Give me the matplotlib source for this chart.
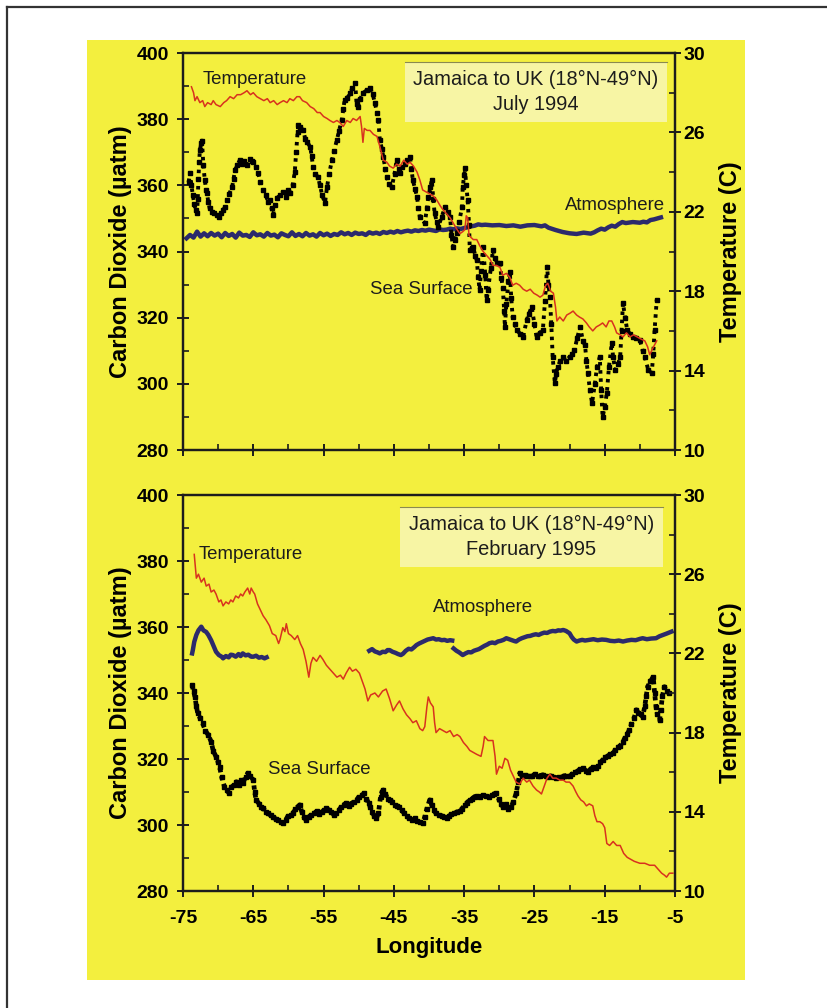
import matplotlib
matplotlib.use("Agg")
import matplotlib.pyplot as plt
import numpy as np
from matplotlib.patches import Rectangle
from matplotlib.lines import Line2D

plt.rcParams["font.family"] = ["Liberation Sans", "DejaVu Sans"]
plt.rcParams["axes.unicode_minus"] = False

# ---- July 1994 (top panel) ----
jul_temp_lon = [-73.8, -73.5, -73.3, -73.0, -72.6, -72.2, -71.9, -71.5, -71.0, -70.7, -70.3, -69.7, -69.2,
                -68.8, -68.3, -67.8, -67.3, -66.8, -66.3, -65.9, -65.4, -65.0, -64.5, -64.0, -63.5, -63.0,
                -62.6, -62.1, -61.6, -61.2, -60.7, -60.2, -59.8, -59.3, -58.8, -58.4, -58.0, -57.4, -56.9,
                -56.4, -55.9, -55.5, -55.0, -54.5, -54.1, -53.6, -53.1, -52.7, -52.2, -51.7, -51.2, -50.8,
                -50.3, -49.8, -49.6, -49.4, -49.2, -48.8, -48.4, -47.9, -47.4, -47.0, -46.5, -46.0, -45.6,
                -45.1, -44.6, -44.1, -43.6, -43.1, -42.7, -42.2, -41.7, -41.3, -40.9, -40.4, -39.9, -39.4,
                -38.9, -38.4, -38.0, -37.5, -37.0, -36.5, -36.0, -35.6, -35.2, -34.9, -34.7, -34.5, -34.3,
                -33.7, -33.2, -32.8, -32.3, -31.8, -31.3, -30.9, -30.4, -29.9, -29.5, -29.0, -28.5, -28.1,
                -27.6, -27.1, -26.6, -26.1, -25.6, -25.1, -24.6, -24.2, -23.8, -23.4, -23.1, -22.7, -22.3,
                -22.0, -21.8, -21.4, -20.9, -20.4, -19.9, -19.5, -19.0, -18.6, -18.1, -17.6, -17.2, -16.7,
                -16.2, -15.7, -15.3, -14.8, -14.4, -14.0, -13.6, -13.3, -12.8, -12.4, -11.9, -11.4, -10.9,
                -10.4, -9.9, -9.3, -8.9, -8.6, -8.2, -7.6]
jul_temp = [28.3, 28.0, 27.6, 27.8, 27.5, 27.6, 27.3, 27.5, 27.4, 27.6, 27.4, 27.3, 27.5,
            27.6, 27.8, 27.7, 27.9, 27.9, 28.0, 28.1, 27.9, 28.0, 27.8, 27.7, 27.6, 27.7,
            27.5, 27.6, 27.4, 27.5, 27.6, 27.5, 27.7, 27.6, 27.8, 27.8, 27.6, 27.5, 27.3,
            27.2, 27.0, 27.0, 26.8, 26.7, 26.6, 26.5, 26.6, 26.5, 26.3, 26.6, 26.5, 26.7,
            26.6, 26.8, 26.3, 25.5, 26.2, 26.1, 26.1, 25.9, 25.8, 25.3, 24.6, 24.5, 24.3,
            24.2, 24.4, 24.3, 24.6, 24.4, 24.5, 24.3, 24.0, 23.6, 23.1, 23.0, 22.9, 22.8,
            22.6, 22.3, 22.1, 21.9, 21.7, 21.4, 21.1, 20.9, 21.0, 21.1, 21.8, 21.7, 20.8,
            20.6, 20.6, 20.3, 20.0, 19.8, 19.6, 19.3, 19.3, 19.2, 18.8, 18.9, 18.7, 18.3,
            18.4, 18.3, 18.1, 18.0, 18.1, 17.9, 17.8, 17.7, 17.8, 18.3, 18.4, 18.0, 17.9,
            17.2, 16.5, 16.7, 16.5, 16.8, 16.9, 17.0, 16.8, 16.7, 16.6, 16.4, 16.2, 16.0,
            16.2, 16.3, 16.4, 16.2, 16.5, 16.5, 16.2, 15.9, 15.8, 15.7, 15.9, 15.7, 15.8,
            15.7, 15.6, 15.5, 15.2, 14.8, 15.1, 15.5]

jul_atm_lon = [-74.5, -74.0, -73.5, -73.0, -72.5, -72.0, -71.5, -71.0, -70.5, -70.0, -69.5, -69.0, -68.5,
               -68.0, -67.5, -67.0, -66.5, -66.0, -65.5, -65.0, -64.5, -64.0, -63.5, -63.0, -62.5, -62.0,
               -61.5, -61.0, -60.5, -60.0, -59.5, -59.0, -58.5, -58.0, -57.5, -57.0, -56.5, -56.0, -55.5,
               -55.0, -54.5, -54.0, -53.5, -53.0, -52.5, -52.0, -51.5, -51.0, -50.5, -50.0, -49.5, -49.0,
               -48.5, -48.0, -47.5, -47.0, -46.5, -46.0, -45.5, -45.0, -44.5, -44.0, -43.5, -43.0, -42.5,
               -42.0, -41.5, -41.0, -40.5, -40.0, -39.5, -39.0, -38.5, -38.0, -37.5, -37.0, -36.5, -36.0,
               -35.5, -35.0, -34.5, -34.0, -33.5, -33.0, -32.5, -32.0, -31.0, -30.0, -29.0, -28.0, -27.0,
               -26.0, -25.0, -24.0, -23.5, -23.0, -22.0, -21.0, -20.0, -19.0, -18.0, -17.0, -16.5, -16.0,
               -15.5, -15.0, -14.5, -14.0, -13.5, -13.0, -12.5, -12.0, -11.0, -10.0, -9.5, -9.0, -8.5,
               -8.0, -7.5, -7.0]
jul_atm = [344.0, 345.0, 344.2, 346.0, 344.5, 345.5, 344.6, 345.6, 344.8, 345.4, 344.3, 345.6, 344.7,
           345.3, 344.2, 345.7, 344.8, 345.0, 344.4, 345.8, 344.9, 345.2, 344.5, 345.6, 344.8, 345.1,
           344.3, 345.5, 345.0, 344.6, 345.8, 344.7, 345.3, 344.6, 345.6, 344.8, 345.2, 344.5, 345.6,
           344.9, 345.4, 344.7, 345.3, 345.0, 345.8, 345.2, 345.6, 345.0, 345.7, 345.3, 345.5, 345.0,
           345.8, 345.4, 345.7, 345.3, 345.9, 345.6, 346.0, 345.7, 346.2, 345.8, 346.1, 346.3, 346.0,
           346.4, 346.2, 346.5, 346.3, 346.6, 346.4, 346.2, 346.7, 346.5, 346.6, 346.9, 346.7, 347.0,
           346.8, 347.1, 347.3, 347.6, 347.8, 348.2, 348.0, 348.1, 347.9, 348.0, 347.7, 347.9, 347.5,
           347.9, 348.0, 347.6, 347.9, 347.2, 346.5, 345.9, 345.5, 345.3, 345.7, 345.4, 345.8, 346.4,
           346.9, 346.6, 347.3, 347.8, 347.5, 348.3, 348.9, 348.6, 348.9, 348.7, 349.0, 348.8, 349.5,
           349.7, 350.0, 350.3]

jul_sea_lon = [-74.2, -74.0, -73.8, -73.6, -73.4, -73.2, -73.0, -72.9, -72.8, -72.7, -72.6, -72.4, -72.3,
               -72.1, -71.9, -71.7, -71.6, -71.4, -71.2, -70.9, -70.6, -70.2, -69.9, -69.6, -69.3, -69.0,
               -68.7, -68.4, -68.0, -67.8, -67.6, -67.3, -66.9, -66.6, -66.3, -65.9, -65.5, -65.2, -65.0,
               -64.6, -64.3, -64.0, -63.6, -63.2, -62.9, -62.6, -62.4, -62.2, -61.9, -61.6, -61.2, -60.8,
               -60.4, -60.1, -59.8, -59.4, -59.1, -58.9, -58.7, -58.6, -58.3, -57.9, -57.6, -57.3, -56.9,
               -56.7, -56.5, -56.2, -55.8, -55.5, -55.2, -54.8, -54.5, -54.2, -53.8, -53.5, -53.1, -52.8,
               -52.4, -52.2, -52.0, -51.6, -51.2, -50.9, -50.5, -50.3, -50.1, -49.8, -49.4, -48.8, -48.4,
               -48.0, -47.7, -47.4, -47.2, -47.0, -46.7, -46.5, -46.2, -46.0, -45.7, -45.3, -44.9, -44.6,
               -44.3, -44.1, -43.8, -43.4, -43.1, -42.7, -42.5, -42.3, -42.0, -41.7, -41.5, -41.3, -40.6,
               -40.3, -40.1, -39.8, -39.6, -39.4, -39.2, -38.9, -38.7, -38.2, -37.7, -37.3, -37.0, -36.8,
               -36.6, -36.3, -36.0, -35.7, -35.3, -35.2, -35.0, -34.9, -34.7, -34.5, -34.3, -34.2, -33.9,
               -33.7, -33.4, -33.2, -33.0, -32.8, -32.6, -32.3, -32.0, -31.8, -31.6, -31.2, -30.9, -30.6,
               -30.3, -29.9, -29.7, -29.5, -29.3, -29.2, -29.0, -28.7, -28.5, -28.3, -28.1, -27.8, -27.5,
               -27.0, -26.6, -26.1, -25.8, -25.4, -25.0, -24.7, -24.2, -23.8, -23.5, -23.2, -23.0, -22.8,
               -22.6, -22.4, -22.1, -21.9, -21.7, -21.3, -20.9, -20.5, -20.0, -19.6, -19.3, -18.9, -18.5,
               -18.1, -17.8, -17.6, -17.4, -17.1, -16.8, -16.4, -16.1, -15.7, -15.5, -15.3, -15.0, -14.7,
               -14.4, -14.0, -13.8, -13.5, -13.1, -12.8, -12.6, -12.4, -12.1, -11.8, -11.4, -11.0, -10.5,
               -10.0, -9.6, -9.3, -8.8, -8.3, -8.1, -7.9, -7.6]
jul_sea = [361.0, 363.7, 360.0, 357.0, 354.5, 352.5, 351.6, 356.0, 362.0, 367.0, 370.7, 372.7, 373.5,
           366.0, 361.6, 358.5, 357.7, 355.0, 353.0, 352.0, 351.5, 351.0, 350.5, 351.5, 352.5, 353.5,
           355.6, 357.5, 359.6, 362.0, 364.6, 366.0, 367.7, 366.5, 367.5, 366.2, 368.0, 367.5, 367.1,
           365.5, 363.7, 361.0, 358.6, 357.0, 355.0, 355.6, 353.0, 351.0, 354.0, 356.2, 357.0, 358.0,
           356.5, 358.5, 357.7, 360.0, 364.0, 370.0, 376.0, 378.2, 377.5, 376.7, 374.0, 373.0, 371.6,
           369.0, 365.6, 363.5, 362.5, 360.0, 357.0, 354.7, 359.6, 363.5, 367.7, 370.5, 373.7, 376.5,
           379.8, 383.0, 385.8, 386.5, 387.9, 389.5, 390.9, 384.5, 383.7, 386.0, 387.9, 388.8, 389.4,
           387.5, 384.9, 382.0, 379.8, 373.7, 371.0, 368.6, 365.0, 362.5, 360.5, 359.5, 363.5, 367.7,
           365.0, 363.7, 365.5, 366.5, 367.7, 368.6, 365.0, 361.6, 359.0, 356.5, 353.0, 350.4, 348.6,
           353.0, 356.5, 359.5, 361.6, 356.0, 351.6, 349.0, 347.4, 350.5, 353.5, 352.0, 350.4, 345.0,
           341.4, 343.5, 345.6, 349.0, 353.5, 359.5, 363.0, 365.3, 360.0, 355.6, 348.0, 340.5, 341.0,
           341.4, 338.5, 337.4, 332.3, 328.4, 334.0, 341.4, 333.0, 325.3, 328.4, 335.0, 340.5, 338.0,
           336.5, 336.5, 332.0, 329.0, 322.0, 317.2, 324.0, 331.0, 333.8, 326.0, 320.2, 318.0, 316.3,
           315.0, 314.2, 319.3, 321.0, 323.3, 318.0, 314.2, 315.5, 316.3, 325.0, 335.4, 330.0, 326.3,
           318.0, 308.0, 300.3, 303.0, 305.1, 307.0, 308.1, 307.0, 308.1, 309.0, 310.2, 314.0, 317.2,
           313.0, 311.7, 307.0, 303.3, 298.0, 294.2, 300.0, 305.1, 308.1, 298.0, 290.0, 293.0, 297.2,
           305.0, 312.3, 308.0, 304.2, 306.0, 308.1, 316.0, 324.4, 320.0, 316.3, 315.0, 314.2, 314.0,
           313.3, 310.0, 308.1, 304.2, 303.3, 309.0, 316.3, 325.4]

# ---- February 1995 (bottom panel) ----
feb_temp_lon = [-73.4, -73.3, -73.1, -72.8, -72.4, -72.0, -71.7, -71.3, -71.0, -70.6, -70.3, -69.9, -69.6,
                -69.3, -68.9, -68.5, -68.2, -67.9, -67.5, -67.1, -66.8, -66.5, -66.2, -65.8, -65.5, -65.3,
                -65.0, -64.8, -64.4, -64.0, -63.6, -63.2, -62.7, -62.3, -61.8, -61.4, -61.2, -60.8, -60.5,
                -60.3, -60.0, -59.6, -59.1, -58.7, -58.3, -57.9, -57.5, -57.2, -57.1, -56.8, -56.5, -56.0,
                -55.5, -55.1, -54.6, -54.1, -53.6, -53.1, -52.6, -52.2, -51.8, -51.3, -50.9, -50.4, -49.9,
                -49.5, -49.1, -48.7, -48.3, -47.7, -47.2, -46.6, -46.1, -45.6, -45.1, -44.6, -44.2, -43.7,
                -43.2, -42.7, -42.3, -41.8, -41.3, -40.9, -40.6, -40.3, -40.1, -39.8, -39.4, -39.2, -39.0,
                -38.5, -38.0, -37.5, -37.0, -36.5, -36.0, -35.6, -35.1, -34.6, -34.2, -33.7, -33.2, -32.6,
                -32.3, -32.1, -31.6, -30.9, -30.6, -30.4, -30.0, -29.6, -29.2, -28.8, -28.4, -28.0, -27.6,
                -27.1, -26.6, -26.1, -25.7, -25.2, -24.7, -24.3, -24.0, -23.6, -23.2, -22.8, -22.4, -21.9,
                -21.4, -20.9, -20.5, -20.0, -19.5, -19.1, -18.8, -18.4, -18.0, -17.6, -17.2, -16.7, -16.4,
                -16.1, -15.7, -15.3, -15.0, -14.7, -14.3, -13.8, -13.3, -12.8, -12.3, -11.8, -11.3, -10.8,
                -10.0, -9.3, -8.6, -7.9, -7.4, -6.9, -6.5, -6.2, -5.8, -5.3]
feb_temp = [27.0, 26.6, 25.8, 26.0, 25.6, 25.8, 25.4, 25.5, 25.1, 25.2, 25.0, 24.6, 24.7,
            24.4, 24.6, 24.5, 24.7, 24.6, 24.9, 24.8, 25.0, 24.9, 25.1, 25.3, 25.0, 25.3,
            25.1, 25.0, 24.5, 24.2, 23.9, 23.7, 23.4, 23.0, 22.9, 22.5, 22.7, 23.3, 23.1,
            23.5, 23.0, 22.9, 22.7, 22.9, 22.5, 22.2, 21.6, 21.0, 20.8, 21.5, 21.8, 21.6,
            21.9, 21.7, 21.4, 21.2, 21.0, 20.8, 20.9, 20.7, 21.0, 21.3, 21.1, 21.2, 21.0,
            20.6, 20.2, 19.6, 19.9, 20.0, 19.8, 20.1, 20.2, 19.7, 19.1, 19.4, 19.6, 19.2,
            18.9, 18.7, 18.5, 18.6, 18.2, 18.1, 18.3, 19.3, 19.8, 19.5, 19.3, 18.5, 18.0,
            18.2, 18.1, 18.0, 18.1, 17.8, 17.9, 17.8, 17.5, 17.3, 17.1, 17.0, 16.9, 16.8,
            17.3, 17.8, 17.6, 17.6, 16.8, 15.9, 16.3, 16.2, 16.7, 16.6, 16.1, 15.8, 15.5,
            15.4, 15.7, 15.5, 15.6, 15.3, 15.1, 15.0, 14.9, 15.3, 15.7, 15.9, 15.7, 15.7,
            15.6, 15.6, 15.5, 15.5, 15.3, 15.0, 14.8, 14.6, 14.5, 14.3, 14.4, 14.3, 13.8,
            13.5, 13.5, 13.4, 13.2, 12.4, 12.3, 12.5, 12.3, 12.3, 11.9, 11.7, 11.6, 11.5,
            11.4, 11.4, 11.3, 11.3, 11.1, 10.9, 10.8, 10.7, 10.9, 10.9]

# atmosphere record has two gaps (nan)
feb_atm_lon = [-73.7, -73.6, -73.4, -73.1, -72.8, -72.4, -72.1, -71.7, -71.4, -71.0, -70.6, -70.3, -69.9,
               -69.5, -69.3, -68.9, -68.5, -68.2, -67.9, -67.5, -67.1, -66.8, -66.5, -66.1, -65.7, -65.3,
               -65.0, -64.6, -64.2, -63.8, -63.4, -63.1, -55.0,
               -48.5, -48.1, -47.7, -47.3, -47.0, -46.6, -46.2, -45.9, -45.6, -45.2, -44.8, -44.4, -44.0,
               -43.7, -43.3, -42.9, -42.5, -42.1, -41.8, -41.4, -41.0, -40.6, -40.2, -39.8, -39.4, -39.0,
               -38.6, -38.2, -37.8, -37.4, -37.0, -36.7, -36.6,
               -36.5, -36.1, -35.7, -35.4, -35.2, -34.8, -34.4, -34.0, -33.6, -33.3, -32.9, -32.5, -32.1,
               -31.7, -31.4, -31.0, -30.6, -30.2, -29.8, -29.4, -29.0, -28.6, -28.2, -27.8, -27.6, -27.2,
               -26.8, -26.4, -26.0, -25.6, -25.2, -24.8, -24.4, -24.0, -23.6, -23.2, -22.8, -22.4, -22.0,
               -21.6, -21.3, -20.9, -20.5, -20.0, -19.7, -19.4, -19.0, -18.6, -18.2, -17.8, -17.2, -16.6,
               -16.0, -15.4, -14.8, -14.2, -13.6, -13.0, -12.4, -11.8, -11.2, -10.6, -10.0, -9.6, -9.0,
               -8.4, -7.7, -7.2, -6.7, -6.2, -5.5]
feb_atm = [352.0, 353.0, 355.5, 357.6, 359.0, 360.1, 359.0, 358.5, 357.6, 356.0, 354.0, 352.5, 351.5,
           351.0, 350.5, 351.2, 350.8, 351.6, 351.5, 351.0, 351.8, 351.2, 352.0, 351.4, 351.6, 351.0,
           351.0, 351.3, 350.7, 350.9, 350.5, 350.8, np.nan,
           352.8, 353.3, 352.6, 352.3, 352.0, 352.5, 352.4, 353.0, 353.0, 352.5, 352.2, 351.8, 351.5,
           351.9, 352.8, 353.4, 353.2, 353.9, 354.5, 355.0, 355.4, 355.8, 356.2, 356.4, 356.6, 356.2,
           356.3, 356.0, 356.1, 355.8, 356.0, 355.9, np.nan,
           353.5, 352.8, 352.3, 351.8, 351.5, 352.0, 352.4, 352.3, 352.8, 353.0, 353.3, 353.8, 354.3,
           354.7, 355.1, 355.3, 355.1, 355.6, 355.8, 356.1, 356.6, 356.3, 356.0, 355.7, 355.6, 356.2,
           356.6, 356.9, 357.2, 357.3, 357.6, 357.8, 357.6, 358.0, 358.3, 358.2, 358.6, 358.8, 358.7,
           359.0, 358.9, 359.1, 358.8, 358.1, 357.0, 356.2, 355.6, 355.9, 356.1, 355.9, 356.1, 356.3,
           356.0, 356.2, 356.1, 355.8, 355.7, 355.9, 355.6, 355.9, 356.1, 356.0, 356.4, 356.6, 356.3,
           356.5, 356.6, 357.2, 357.6, 358.0, 358.6]

feb_sea_lon = [-73.7, -73.5, -73.3, -73.1, -72.9, -72.6, -72.2, -71.8, -71.4, -71.0, -70.7, -70.3, -70.0,
               -69.8, -69.5, -69.1, -68.8, -68.4, -68.1, -67.8, -67.4, -67.0, -66.7, -66.5, -66.1, -65.8,
               -65.4, -65.0, -64.8, -64.6, -64.2, -63.9, -63.6, -63.2, -62.9, -62.5, -62.2, -61.8, -61.5,
               -61.1, -60.8, -60.4, -60.1, -59.7, -59.4, -59.0, -58.7, -58.4, -58.1, -57.8, -57.5, -57.1,
               -56.8, -56.4, -56.0, -55.6, -55.2, -54.9, -54.6, -54.2, -53.9, -53.5, -53.2, -52.8, -52.5,
               -52.1, -51.8, -51.4, -51.1, -50.7, -50.3, -50.0, -49.6, -49.2, -48.9, -48.6, -48.4, -48.1,
               -47.8, -47.5, -47.2, -46.9, -46.7, -46.5, -46.2, -45.9, -45.6, -45.2, -44.9, -44.6, -44.2,
               -43.9, -43.5, -43.2, -42.8, -42.4, -42.0, -41.7, -41.3, -40.9, -40.6, -40.3, -39.9, -39.6,
               -39.3, -39.0, -38.6, -38.2, -37.9, -37.5, -37.1, -36.8, -36.4, -36.0, -35.6, -35.3, -34.9,
               -34.6, -34.2, -33.9, -33.5, -33.1, -32.7, -32.3, -31.9, -31.5, -31.1, -30.8, -30.4, -30.1,
               -29.8, -29.5, -29.1, -28.7, -28.3, -28.0, -27.6, -27.3, -27.1, -26.8, -26.4, -26.1, -25.7,
               -25.3, -24.9, -24.5, -24.2, -23.8, -23.4, -23.1, -22.7, -22.3, -21.9, -21.5, -21.1, -20.8,
               -20.4, -20.0, -19.6, -19.2, -18.8, -18.5, -18.1, -17.7, -17.4, -17.0, -16.6, -16.2, -15.9,
               -15.6, -15.3, -14.9, -14.5, -14.2, -13.8, -13.5, -13.1, -12.8, -12.4, -12.1, -11.8, -11.5,
               -11.2, -10.8, -10.5, -10.2, -9.9, -9.6, -9.3, -9.1, -8.9, -8.5, -8.1, -7.9, -7.7,
               -7.5, -7.2, -7.0, -6.8, -6.5, -6.2, -5.8]
feb_sea = [342.4, 340.5, 338.9, 336.0, 333.8, 332.5, 330.8, 328.5, 327.3, 325.3, 322.5, 320.7, 319.0,
           317.7, 314.5, 311.6, 310.5, 309.6, 311.5, 312.0, 313.1, 312.0, 313.5, 312.6, 314.5, 315.7,
           315.0, 313.6, 310.0, 307.6, 306.5, 305.6, 305.1, 304.0, 303.5, 302.9, 302.5, 301.8, 301.5,
           301.0, 300.5, 301.5, 302.6, 303.0, 303.5, 304.8, 305.5, 306.1, 304.0, 302.5, 301.5, 302.5,
           303.0, 303.6, 304.1, 303.2, 304.0, 304.6, 305.1, 304.5, 303.8, 303.0, 303.5, 304.5, 305.5,
           306.2, 306.6, 305.8, 306.5, 307.0, 307.6, 308.5, 309.0, 309.6, 308.0, 306.6, 305.6, 304.0,
           302.8, 302.0, 303.5, 308.5, 310.0, 310.6, 309.5, 308.0, 307.6, 307.0, 306.2, 305.8, 305.6,
           304.5, 303.5, 302.8, 302.0, 301.5, 302.0, 301.2, 300.8, 300.5, 302.5, 305.0, 307.6, 306.0,
           304.5, 303.5, 303.0, 302.8, 302.5, 302.0, 302.8, 303.2, 303.5, 304.0, 304.1, 305.0, 306.0,
           306.8, 307.6, 308.0, 308.6, 308.8, 308.5, 309.1, 308.8, 308.5, 309.0, 309.4, 309.6, 308.0,
           306.5, 305.6, 306.5, 305.0, 305.6, 307.0, 309.6, 313.0, 315.7, 315.0, 315.3, 314.9, 314.7,
           315.0, 315.4, 314.8, 315.0, 315.2, 314.8, 314.6, 314.9, 314.5, 314.2, 314.6, 314.5, 314.9,
           315.0, 314.7, 315.5, 316.0, 316.4, 317.0, 317.2, 316.5, 316.0, 317.0, 317.5, 317.2, 318.0,
           319.0, 319.7, 320.5, 321.0, 321.5, 321.7, 322.8, 323.5, 324.0, 325.3, 326.5, 327.5, 328.8,
           330.5, 332.5, 334.9, 334.0, 333.5, 332.8, 336.0, 339.0, 341.9, 343.5, 344.9, 340.0, 335.9,
           333.5, 331.8, 335.0, 339.0, 341.9, 340.5, 339.9]

YELLOW = "#f3ef3e"
BOX = "#f7f5a4"
NAVY = "#2c2a6c"
RED = "#d8321e"
INK = "#1c1c1c"

W, H = 828, 1008
fig = plt.figure(figsize=(W / 100, H / 100), dpi=100)


def fx(px):
    return px / W


def fy(py):
    return 1 - py / H


# yellow panel and outer frame
fig.patches.append(Rectangle((fx(87), fy(980)), fx(745) - fx(87), fy(40) - fy(980),
                             transform=fig.transFigure, facecolor=YELLOW, edgecolor="none", zorder=-5))
fig.add_artist(Line2D([fx(7), 1], [fy(7), fy(7)], color="#333333", lw=1.6))
fig.add_artist(Line2D([fx(7), fx(7)], [fy(7), 0], color="#333333", lw=1.6))


def style_axes(ax, axr, show_x):
    ax.set_facecolor("none")
    ax.set_xlim(-75, -5)
    ax.set_ylim(280, 400)
    axr.set_ylim(10, 30)
    ax.set_xticks(np.arange(-75, -4, 10))
    ax.set_xticks(np.arange(-70, -5, 10), minor=True)
    ax.set_yticks(np.arange(280, 401, 20))
    ax.set_yticks(np.arange(290, 400, 20), minor=True)
    axr.set_yticks(np.arange(10, 31, 4))
    axr.set_yticks(np.arange(12, 30, 4), minor=True)
    for a in (ax, axr):
        for s in a.spines.values():
            s.set_linewidth(1.6)
            s.set_color(INK)
    ax.tick_params(axis="both", which="major", direction="inout", length=8, width=1.4,
                   color=INK, labelsize=14)
    ax.tick_params(axis="y", which="major", pad=6)
    ax.tick_params(axis="both", which="minor", direction="in", length=4, width=1.2, color=INK)
    ax.tick_params(axis="x", top=False, labelbottom=show_x, pad=10)
    axr.tick_params(axis="y", which="major", direction="inout", length=8, width=1.4,
                    color=INK, labelsize=14, pad=2)
    axr.tick_params(axis="y", which="minor", direction="in", length=4, width=1.2, color=INK)
    for lab in ax.get_xticklabels() + ax.get_yticklabels() + axr.get_yticklabels():
        lab.set_fontweight("bold")
    ax.set_ylabel("Carbon Dioxide (µatm)", fontsize=17, fontweight="bold")
    axr.set_ylabel("Temperature (C)", fontsize=17, fontweight="bold")
    ax.yaxis.set_label_coords(-0.104, 0.5)
    axr.yaxis.set_label_coords(1.089, 0.5)


def title_box(x0, y0, x1, y1, lines):
    fig.patches.append(Rectangle((fx(x0), fy(y1)), fx(x1) - fx(x0), fy(y0) - fy(y1),
                                 transform=fig.transFigure, facecolor=BOX, edgecolor="none", zorder=1))
    fig.add_artist(Line2D([fx(x0), fx(x1)], [fy(y0), fy(y0)], color="#8a8a50", lw=0.8, zorder=2))
    fig.text(fx((x0 + x1) / 2), fy((y0 + y1) / 2), lines, ha="center", va="center",
             fontsize=14.4, color=INK, linespacing=1.45, zorder=3)


def note(ax, x, y, s):
    ax.text(x, y, s, transform=ax.transAxes, fontsize=13.4, color=INK, va="center")


# ---- top panel ----
ax1 = fig.add_axes([fx(183), fy(450), fx(675) - fx(183), fy(53) - fy(450)])
ax1r = ax1.twinx()
ax1.plot(jul_atm_lon, jul_atm, color=NAVY, lw=3.2)
ax1.plot(jul_sea_lon, jul_sea, color="black", lw=2.8, linestyle=(0, (0.9, 1.2)))
ax1.plot(jul_sea_lon, jul_sea, "s", color="black", ms=2.4)
ax1r.plot(jul_temp_lon, jul_temp, color=RED, lw=1.1)
style_axes(ax1, ax1r, show_x=False)
note(ax1, 0.039, 0.934, "Temperature")
note(ax1, 0.380, 0.405, "Sea Surface")
note(ax1, 0.776, 0.617, "Atmosphere")
title_box(405, 62, 667, 122, "Jamaica to UK (18°N-49°N)\nJuly 1994")

# ---- bottom panel ----
ax2 = fig.add_axes([fx(183), fy(891), fx(675) - fx(183), fy(495) - fy(891)])
ax2r = ax2.twinx()
ax2.plot(feb_atm_lon, feb_atm, color=NAVY, lw=3.2)
ax2.plot(feb_sea_lon, feb_sea, color="black", lw=3.4, linestyle=(0, (0.9, 0.8)))
ax2.plot(feb_sea_lon, feb_sea, "s", color="black", ms=3.0)
ax2r.plot(feb_temp_lon, feb_temp, color=RED, lw=1.1)
style_axes(ax2, ax2r, show_x=True)
ax2.set_xlabel("Longitude", fontsize=16, fontweight="bold")
ax2.xaxis.set_label_coords(0.5, -0.117)
note(ax2, 0.031, 0.851, "Temperature")
note(ax2, 0.173, 0.308, "Sea Surface")
note(ax2, 0.508, 0.717, "Atmosphere")
title_box(400, 507, 663, 567, "Jamaica to UK (18°N-49°N)\nFebruary 1995")

fig.savefig("out.png", dpi=100, facecolor="white")
